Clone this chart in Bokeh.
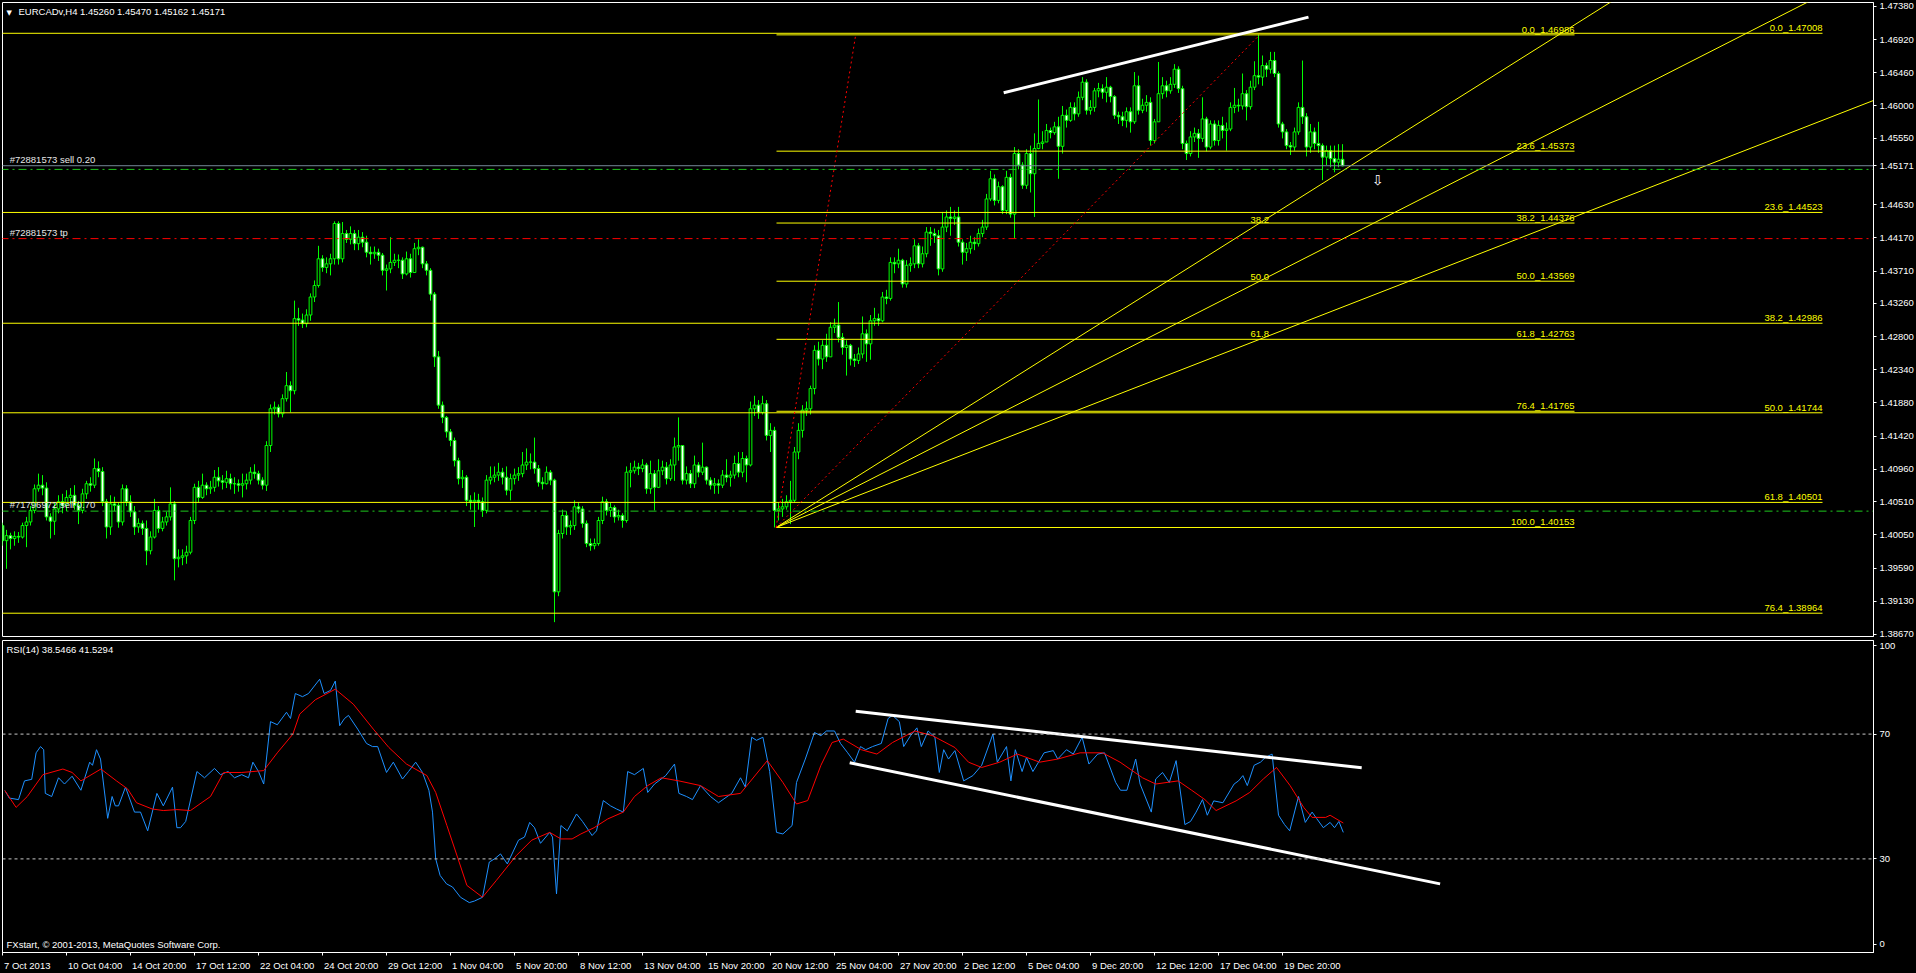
from bokeh.plotting import figure
from bokeh.models import (ColumnDataSource, FixedTicker, Range1d, Label, Span,
                          NumeralTickFormatter, CustomJS)
from bokeh.layouts import column
from bokeh.document import Document
from bokeh.embed import file_html
from bokeh.resources import INLINE
from bokeh.core.properties import value

FONT = "Liberation Sans"

# ---------------- data (EURCADv, H4) ----------------
first_open = 1.4018
closes = [
    1.3997, 1.4004, 1.4000, 1.4003, 1.4002, 1.4018, 1.4023, 1.4039, 1.4069, 1.4074,
    1.4070, 1.4030, 1.4024, 1.4041, 1.4051, 1.4046, 1.4057, 1.4060, 1.4046, 1.4039,
    1.4062, 1.4076, 1.4074, 1.4097, 1.4093, 1.4051, 1.4016, 1.4048, 1.4046, 1.4023,
    1.4069, 1.4051, 1.4037, 1.4016, 1.4021, 1.4014, 1.3983, 1.4002, 1.4039, 1.4014,
    1.4023, 1.4030, 1.4048, 1.3972, 1.3974, 1.3976, 1.3981, 1.4025, 1.4071, 1.4057,
    1.4074, 1.4069, 1.4071, 1.4085, 1.4080, 1.4078, 1.4083, 1.4076, 1.4076, 1.4074,
    1.4076, 1.4081, 1.4092, 1.4090, 1.4081, 1.4074, 1.4129, 1.4180, 1.4182, 1.4173,
    1.4194, 1.4212, 1.4205, 1.4305, 1.4303, 1.4298, 1.4310, 1.4335, 1.4351, 1.4388,
    1.4376, 1.4381, 1.4388, 1.4437, 1.4388, 1.4423, 1.4415, 1.4423, 1.4409, 1.4418,
    1.4411, 1.4397, 1.4395, 1.4397, 1.4393, 1.4372, 1.4374, 1.4383, 1.4386, 1.4386,
    1.4367, 1.4388, 1.4369, 1.4402, 1.4404, 1.4381, 1.4372, 1.4339, 1.4252, 1.4185,
    1.4168, 1.4148, 1.4136, 1.4108, 1.4083, 1.4085, 1.4053, 1.4051, 1.4053, 1.4051,
    1.4039, 1.4081, 1.4085, 1.4088, 1.4092, 1.4085, 1.4067, 1.4083, 1.4088, 1.4090,
    1.4102, 1.4106, 1.4106, 1.4097, 1.4078, 1.4076, 1.4092, 1.4081, 1.3926, 1.4007,
    1.4032, 1.4016, 1.4018, 1.4044, 1.4041, 1.4021, 1.3993, 1.3990, 1.3993, 1.4025,
    1.4051, 1.4039, 1.4043, 1.4030, 1.4032, 1.4025, 1.4092, 1.4094, 1.4099, 1.4097,
    1.4102, 1.4069, 1.4090, 1.4071, 1.4094, 1.4099, 1.4083, 1.4102, 1.4127, 1.4129,
    1.4081, 1.4090, 1.4076, 1.4102, 1.4092, 1.4099, 1.4081, 1.4074, 1.4076, 1.4074,
    1.4088, 1.4085, 1.4088, 1.4104, 1.4092, 1.4111, 1.4102, 1.4180, 1.4185, 1.4175,
    1.4187, 1.4143, 1.4150, 1.4039, 1.4041, 1.4044, 1.4051, 1.4053, 1.4120, 1.4150,
    1.4178, 1.4180, 1.4208, 1.4261, 1.4249, 1.4268, 1.4252, 1.4293, 1.4296, 1.4279,
    1.4265, 1.4268, 1.4249, 1.4247, 1.4256, 1.4284, 1.4270, 1.4302, 1.4305, 1.4302,
    1.4335, 1.4333, 1.4383, 1.4381, 1.4386, 1.4353, 1.4379, 1.4381, 1.4406, 1.4381,
    1.4395, 1.4425, 1.4423, 1.4420, 1.4374, 1.4432, 1.4446, 1.4444, 1.4446, 1.4411,
    1.4397, 1.4402, 1.4411, 1.4409, 1.4423, 1.4432, 1.4471, 1.4499, 1.4469, 1.4488,
    1.4455, 1.4501, 1.4450, 1.4534, 1.4518, 1.4490, 1.4534, 1.4506, 1.4541, 1.4548,
    1.4550, 1.4566, 1.4563, 1.4571, 1.4544, 1.4587, 1.4580, 1.4598, 1.4589, 1.4612,
    1.4633, 1.4594, 1.4598, 1.4621, 1.4624, 1.4619, 1.4626, 1.4613, 1.4587, 1.4585,
    1.4580, 1.4592, 1.4578, 1.4628, 1.4594, 1.4601, 1.4605, 1.4552, 1.4578, 1.4617,
    1.4628, 1.4621, 1.4630, 1.4651, 1.4624, 1.4548, 1.4534, 1.4557, 1.4562, 1.4555,
    1.4582, 1.4543, 1.4575, 1.4552, 1.4573, 1.4566, 1.4568, 1.4598, 1.4601, 1.4600,
    1.4617, 1.4599, 1.4626, 1.4642, 1.4640, 1.4656, 1.4651, 1.4663, 1.4645, 1.4575,
    1.4564, 1.4545, 1.4543, 1.4564, 1.4598, 1.4585, 1.4543, 1.4564, 1.4548, 1.4545,
    1.4529, 1.4538, 1.4527, 1.4522, 1.4526, 1.45171,
]
highs = [
    1.4022, 1.4012, 1.4008, 1.4010, 1.4009, 1.4022, 1.4030, 1.4045, 1.4075, 1.4090,
    1.4088, 1.4078, 1.4035, 1.4050, 1.4060, 1.4062, 1.4067, 1.4070, 1.4074, 1.4052,
    1.4069, 1.4080, 1.4085, 1.4111, 1.4107, 1.4099, 1.4055, 1.4060, 1.4058, 1.4050,
    1.4075, 1.4074, 1.4060, 1.4045, 1.4028, 1.4025, 1.4025, 1.4010, 1.4055, 1.4045,
    1.4030, 1.4037, 1.4071, 1.4052, 1.3985, 1.3985, 1.3990, 1.4030, 1.4076, 1.4080,
    1.4090, 1.4078, 1.4080, 1.4095, 1.4099, 1.4088, 1.4094, 1.4090, 1.4085, 1.4082,
    1.4090, 1.4090, 1.4099, 1.4103, 1.4094, 1.4085, 1.4135, 1.4186, 1.4190, 1.4186,
    1.4200, 1.4231, 1.4218, 1.4330, 1.4320, 1.4312, 1.4318, 1.4340, 1.4358, 1.4406,
    1.4393, 1.4390, 1.4395, 1.4440, 1.4440, 1.4439, 1.4428, 1.4433, 1.4428, 1.4428,
    1.4425, 1.4420, 1.4405, 1.4405, 1.4402, 1.4396, 1.4380, 1.4418, 1.4395, 1.4394,
    1.4390, 1.4398, 1.4395, 1.4410, 1.4415, 1.4405, 1.4385, 1.4375, 1.4342, 1.4260,
    1.4190, 1.4170, 1.4152, 1.4140, 1.4112, 1.4095, 1.4088, 1.4060, 1.4064, 1.4062,
    1.4057, 1.4088, 1.4100, 1.4100, 1.4105, 1.4098, 1.4100, 1.4090, 1.4097, 1.4099,
    1.4120, 1.4125, 1.4118, 1.4140, 1.4102, 1.4085, 1.4100, 1.4095, 1.4083, 1.4012,
    1.4040, 1.4038, 1.4025, 1.4053, 1.4050, 1.4045, 1.4025, 1.4000, 1.4000, 1.4030,
    1.4058, 1.4055, 1.4050, 1.4046, 1.4040, 1.4035, 1.4100, 1.4105, 1.4108, 1.4105,
    1.4110, 1.4105, 1.4108, 1.4095, 1.4110, 1.4108, 1.4106, 1.4110, 1.4140, 1.4168,
    1.4125, 1.4100, 1.4095, 1.4115, 1.4106, 1.4133, 1.4100, 1.4085, 1.4084, 1.4082,
    1.4095, 1.4110, 1.4094, 1.4115, 1.4120, 1.4120, 1.4115, 1.4190, 1.4198, 1.4192,
    1.4198, 1.4192, 1.4160, 1.4155, 1.4050, 1.4055, 1.4060, 1.4080, 1.4127, 1.4160,
    1.4185, 1.4190, 1.4212, 1.4268, 1.4273, 1.4275, 1.4284, 1.4300, 1.4305, 1.4328,
    1.4285, 1.4275, 1.4270, 1.4256, 1.4265, 1.4308, 1.4290, 1.4310, 1.4320, 1.4312,
    1.4342, 1.4345, 1.4390, 1.4390, 1.4402, 1.4388, 1.4386, 1.4390, 1.4415, 1.4410,
    1.4405, 1.4432, 1.4432, 1.4430, 1.4428, 1.4453, 1.4455, 1.4460, 1.4455, 1.4460,
    1.4415, 1.4410, 1.4420, 1.4418, 1.4430, 1.4442, 1.4478, 1.4510, 1.4505, 1.4495,
    1.4490, 1.4510, 1.4506, 1.4543, 1.4540, 1.4522, 1.4540, 1.4545, 1.4562, 1.4609,
    1.4565, 1.4575, 1.4570, 1.4578, 1.4585, 1.4600, 1.4595, 1.4605, 1.4605, 1.4620,
    1.4640, 1.4637, 1.4608, 1.4625, 1.4632, 1.4630, 1.4640, 1.4628, 1.4615, 1.4592,
    1.4592, 1.4598, 1.4598, 1.4647, 1.4642, 1.4610, 1.4615, 1.4612, 1.4582, 1.4661,
    1.4640, 1.4635, 1.4640, 1.4658, 1.4655, 1.4628, 1.4552, 1.4565, 1.4570, 1.4568,
    1.4612, 1.4585, 1.4580, 1.4580, 1.4580, 1.4585, 1.4577, 1.4605, 1.4625, 1.4610,
    1.4645, 1.4622, 1.4635, 1.4662, 1.4699, 1.4670, 1.4660, 1.4675, 1.4675, 1.4648,
    1.4578, 1.4568, 1.4550, 1.4570, 1.4605, 1.4663, 1.4590, 1.4575, 1.4570, 1.4578,
    1.4548, 1.4545, 1.4545, 1.4545, 1.4547, 1.45470,
]
lows = [
    1.3990, 1.3958, 1.3985, 1.3990, 1.3994, 1.4000, 1.3988, 1.4018, 1.4035, 1.4065,
    1.4060, 1.4025, 1.4000, 1.4005, 1.4035, 1.4035, 1.4038, 1.4048, 1.4040, 1.4020,
    1.4035, 1.4055, 1.4065, 1.4070, 1.4085, 1.4045, 1.4000, 1.4005, 1.4038, 1.4015,
    1.4018, 1.4045, 1.4030, 1.4005, 1.4008, 1.4005, 1.3963, 1.3978, 1.4000, 1.4008,
    1.4010, 1.4018, 1.4025, 1.3942, 1.3960, 1.3963, 1.3965, 1.3978, 1.4020, 1.4050,
    1.4055, 1.4060, 1.4062, 1.4065, 1.4072, 1.4068, 1.4070, 1.4068, 1.4062, 1.4065,
    1.4057, 1.4068, 1.4075, 1.4083, 1.4075, 1.4068, 1.4066, 1.4120, 1.4172, 1.4168,
    1.4168, 1.4190, 1.4175, 1.4200, 1.4295, 1.4292, 1.4293, 1.4302, 1.4328, 1.4348,
    1.4370, 1.4368, 1.4365, 1.4380, 1.4380, 1.4383, 1.4410, 1.4408, 1.4400, 1.4400,
    1.4404, 1.4390, 1.4380, 1.4388, 1.4385, 1.4365, 1.4344, 1.4368, 1.4378, 1.4375,
    1.4360, 1.4365, 1.4362, 1.4370, 1.4393, 1.4375, 1.4365, 1.4330, 1.4238, 1.4180,
    1.4160, 1.4140, 1.4128, 1.4100, 1.4075, 1.4070, 1.4045, 1.4040, 1.4016, 1.4040,
    1.4030, 1.4035, 1.4075, 1.4078, 1.4080, 1.4075, 1.4060, 1.4053, 1.4075, 1.4080,
    1.4085, 1.4095, 1.4096, 1.4090, 1.4072, 1.4068, 1.4075, 1.4074, 1.3884, 1.3920,
    1.4000, 1.4005, 1.4005, 1.4012, 1.4035, 1.4015, 1.3988, 1.3983, 1.3985, 1.3990,
    1.4020, 1.4032, 1.4030, 1.4022, 1.4025, 1.4015, 1.4022, 1.4071, 1.4090, 1.4088,
    1.4092, 1.4062, 1.4062, 1.4039, 1.4070, 1.4088, 1.4075, 1.4080, 1.4080, 1.4108,
    1.4075, 1.4075, 1.4070, 1.4070, 1.4085, 1.4088, 1.4075, 1.4068, 1.4062, 1.4062,
    1.4070, 1.4078, 1.4072, 1.4083, 1.4085, 1.4085, 1.4078, 1.4100, 1.4170, 1.4166,
    1.4172, 1.4136, 1.4120, 1.40153, 1.4025, 1.4030, 1.4040, 1.4020, 1.4050, 1.4110,
    1.4140, 1.4170, 1.4172, 1.4200, 1.4240, 1.4235, 1.4245, 1.4262, 1.4285, 1.4272,
    1.4255, 1.4226, 1.4240, 1.4238, 1.4242, 1.4250, 1.4245, 1.4248, 1.4295, 1.4295,
    1.4300, 1.4325, 1.4330, 1.4368, 1.4375, 1.4348, 1.4348, 1.4370, 1.4375, 1.4375,
    1.4376, 1.4390, 1.4406, 1.4410, 1.4365, 1.4370, 1.4425, 1.4420, 1.4435, 1.4405,
    1.4380, 1.4385, 1.4395, 1.4400, 1.4405, 1.4418, 1.4428, 1.4468, 1.4462, 1.4465,
    1.4450, 1.4450, 1.4445, 1.4416, 1.4512, 1.4485, 1.4485, 1.4480, 1.4446, 1.4540,
    1.4540, 1.4550, 1.4555, 1.4560, 1.4499, 1.4534, 1.4570, 1.4578, 1.4580, 1.4585,
    1.4608, 1.4588, 1.4588, 1.4592, 1.4612, 1.4610, 1.4605, 1.4605, 1.4582, 1.4575,
    1.4572, 1.4570, 1.4563, 1.4575, 1.4588, 1.4590, 1.4592, 1.4545, 1.4548, 1.4580,
    1.4610, 1.4612, 1.4617, 1.4625, 1.4618, 1.4540, 1.4525, 1.4530, 1.4550, 1.4528,
    1.4550, 1.4537, 1.4540, 1.4545, 1.4545, 1.4555, 1.4538, 1.4565, 1.4590, 1.4592,
    1.4595, 1.4580, 1.4595, 1.4622, 1.4630, 1.4628, 1.4640, 1.4645, 1.4640, 1.4570,
    1.4555, 1.4540, 1.4532, 1.4538, 1.4560, 1.4575, 1.4530, 1.4535, 1.4540, 1.4535,
    1.4497, 1.4518, 1.4515, 1.4508, 1.4515, 1.45162,
]

# time axis: bar index of each label and its text
time_tick_bars = [0, 16, 32, 48, 64, 80, 96, 112, 128, 144, 160, 176, 192, 208, 224,
                  240, 256, 272, 288, 304, 320]
time_tick_labels = ["7 Oct 2013", "10 Oct 04:00", "14 Oct 20:00", "17 Oct 12:00", "22 Oct 04:00",
                    "24 Oct 20:00", "29 Oct 12:00", "1 Nov 04:00", "5 Nov 20:00", "8 Nov 12:00",
                    "13 Nov 04:00", "15 Nov 20:00", "20 Nov 12:00", "25 Nov 04:00", "27 Nov 20:00",
                    "2 Dec 12:00", "5 Dec 04:00", "9 Dec 20:00", "12 Dec 12:00", "17 Dec 04:00",
                    "19 Dec 20:00"]
price_ticks = [1.47380, 1.46920, 1.46460, 1.46000, 1.45550, 1.45171, 1.44630, 1.44170, 1.43710,
               1.43260, 1.42800, 1.42340, 1.41880, 1.41420, 1.40960, 1.40510, 1.40050, 1.39590,
               1.39130, 1.38670]
rsi_ticks = [2.6, 30, 70, 98.4]
rsi_tick_labels = ["0", "30", "70", "100"]

# Fibonacci retracement #1 (anchored on the 20 Nov low) and #2 (wide one)
fib1_levels = [0.0, 23.6, 38.2, 50.0, 61.8, 76.4, 100.0]
fib1_prices = [1.46986, 1.45373, 1.44376, 1.43569, 1.42763, 1.41765, 1.40153]
fib1_span = [193.5, 393.0]
fib2_levels = [0.0, 23.6, 38.2, 50.0, 61.8, 76.4]
fib2_prices = [1.47008, 1.44523, 1.42986, 1.41744, 1.40501, 1.38964]
fib2_span = [-5.0, 455.0]

# Fibonacci fan: anchors (bar, price) and levels
fan_anchor_bars = [193.4, 314.3]
fan_anchor_prices = [1.40153, 1.46986]
fan_levels = [38.2, 50.0, 61.8]
fan_label_bar = 312.0
fan_end_bar = 480.0

# trend lines (bar, price)
red_line1 = ([193.4, 213.3], [1.40153, 1.46986])
red_line2 = ([193.4, 314.3], [1.40153, 1.46986])
white_trend = ([250.3, 326.5], [1.46183, 1.47232])

# order lines
bid_price = 1.45171
sell_open_prices = [1.4512, 1.4038]
sell_labels = ["#72881573 sell 0.20", "#71796972 sell 0.70"]
tp_price = 1.4416
tp_label = "#72881573 tp"
arrow_pos = (343.8, 1.4497)

# RSI(14) (blue) and its signal line (red): (bar, value)
rsi_x = [0.6, 1.7, 4.0, 5.5, 7.3, 8.4, 9.5, 10.3, 10.7, 12.3, 14, 15.5, 17.4, 19.6, 21.8, 22.5,
         23.5, 24.5, 26.3, 27.4, 28.2, 29, 30.75, 33, 34.5, 36.3, 38.6, 40.2, 42.5, 43.6, 44.5,
         45.8, 48.6, 50.5, 53, 54.5, 56.4, 58, 59.8, 61.5, 62.6, 64, 65.3, 67, 68.7, 71, 72,
         73.2, 75, 76.5, 79.3, 80.4, 82, 83.2, 84.3, 85.5, 86.5, 88.8, 91, 92.5, 93.8, 96, 97.7,
         100, 101.5, 103.3, 105, 106.6, 107.5, 108.3, 109.4, 111, 112.5, 114.5, 116.7, 118, 120,
         121.7, 123, 124.5, 126.2, 129, 130.5, 131.8, 133, 134.5, 136.8, 137.5, 138.5, 139.6,
         141.2, 143.5, 145, 147.4, 148.5, 150.2, 152, 153.5, 155.2, 156.3, 158, 160.2, 161.3,
         163, 165.8, 168, 169.1, 171, 172.5, 174.5, 177, 179, 182.3, 184.5, 185.7, 187.3, 188.5,
         190.1, 191.8, 193.5, 195.1, 197.4, 198.5, 200.7, 203, 204.6, 206, 208, 209.5, 211.3,
         213, 214.5, 215.8, 217.5, 219.7, 221.4, 222.5, 224.2, 225.3, 227, 228.6, 229.7, 231.4,
         233.1, 234.2, 235.3, 236.5, 238.1, 240.3, 242.6, 244.8, 247.6, 248.7, 251, 252.1, 253.2,
         254.9, 256, 257.6, 260.4, 262.7, 263.8, 266, 267.7, 269.9, 271.6, 273.8, 275.5, 278.3,
         279.5, 281.1, 283.3, 284.4, 287.2, 288.3, 290, 291.7, 293.4, 295.6, 297, 298.4, 300,
         301.2, 302.8, 305.1, 307.9, 309, 310.1, 311.2, 312.9, 314.5, 315.7, 317.4, 319, 320.5,
         321.8, 324, 325.7, 327.4, 328.5, 330.2, 331.9, 333, 334.1, 335.2]
rsi_v = [51.9, 49.5, 49, 55, 55.5, 64, 66, 65, 51, 50, 56, 54, 56.5, 52, 61, 60,
         65, 62, 43, 50, 47, 47, 53, 45, 45, 39, 51, 47, 53, 40, 40,
         42, 58, 56, 59, 57, 58, 56, 57, 56, 61, 58, 54, 74, 73, 77, 75,
         83, 82, 83, 87.6, 83, 84, 87, 72.7, 75, 76, 71.6, 67, 66, 66, 57.7, 61,
         55.6, 58, 61, 57.7, 52, 45, 30, 24.7, 22, 21, 17.7, 16, 16.5, 17.7,
         29, 30, 31.6, 28.4, 36, 37, 41.7, 40, 35, 38.5, 37, 18.8, 40.7,
         39, 44.4, 42, 37.5, 39, 48.7, 47, 46, 45, 58, 57, 59, 51.3,
         54, 56.7, 60.4, 51, 50, 49, 53.5, 50, 48, 51, 56, 53, 69, 68,
         69, 58, 38.5, 38, 40.7, 54.5, 62, 70.5, 69.5, 71, 71, 67, 64,
         61, 66, 65, 66, 67, 75, 76, 74, 66, 69.5, 72, 66, 71,
         69, 57.7, 65, 62, 64.7, 55, 56.7, 60, 70, 61, 66, 55, 65,
         58, 62.5, 58, 64, 64.7, 62, 65, 63.6, 69, 60.4, 63.6, 64, 54.5,
         52, 52, 62, 54, 45, 55.6, 57.7, 54.5, 61.5, 41, 42, 45, 49,
         44, 48.6, 48, 54, 55, 56.7, 53.5, 60, 61, 62.5, 63.6, 44, 41,
         39, 50, 41.7, 45, 43, 40, 41.7, 40, 42, 38.5]
sig_x = [0.6, 3.4, 6.2, 10.1, 15.1, 17.4, 19.6, 24.6, 28.5, 31.3, 33.5, 37.4, 40.2, 43.6, 47,
         52, 55.3, 59.8, 65.3, 68.7, 72.6, 74.3, 78.2, 83.2, 87.7, 92.7, 96.6, 101, 106.1,
         108.3, 111.1, 113.9, 116.1, 120, 123.4, 128.4, 132.3, 136.8, 139.6, 142.4, 144.6,
         147.9, 151.3, 155.2, 158, 161.3, 164.7, 169.1, 174.5, 179, 184.5, 191.2, 195.1,
         198.5, 201.3, 204.6, 207.4, 210.2, 214.7, 218.6, 222.5, 228.1, 232.5, 238.1, 241.5,
         244.8, 249.3, 253.7, 259.3, 263.8, 269.4, 275, 279.4, 285, 288.3, 293.9, 297.3,
         300.6, 303.4, 308.4, 311.8, 315.2, 318.5, 321.9, 325.3, 327.4, 330.8, 331.9, 335.2]
sig_v = [51.9, 46.5, 50, 57, 58.8, 57.7, 55, 58.8, 55, 52.4, 48, 46, 45.5, 45.8, 45.5,
         50, 57.7, 57.7, 58.3, 64, 70, 76.4, 81, 84.4, 79.6, 71.6, 65.7, 60.4, 56.7,
         51.3, 40.7, 30, 21.5, 17.7, 23, 31, 36, 38.5, 36.4, 36.4, 38,
         40, 42.8, 45, 50, 53.5, 56, 55, 53.5, 50, 51, 61.5, 54.5,
         47.6, 48.7, 60, 67.3, 68.4, 65, 63.6, 67.3, 71, 69.5, 65.7, 61,
         59.3, 61, 63.6, 61, 62, 64, 64, 61, 56, 54, 55, 52,
         49, 45.5, 48.6, 51.3, 55.6, 59.3, 53.5, 46.5, 43.3, 43.3, 44, 41.5]
rsi_levels = [70, 30]
rsi_upper_line = ([213.3, 339.8], [77.3, 59.2])
rsi_lower_line = ([211.8, 359.4], [60.8, 22.0])

# ---------------- styling ----------------
LIME = "#00ff00"
YELLOW = "#ffff00"
FW = 1871          # 4 px per bar
MH = 634
RH = 312
PX_PER_BAR = 4.0
XR = Range1d(0.0, FW / PX_PER_BAR)
FS = "9.5px"
FSPX = 9.5


def style_axis(ax):
    ax.axis_line_color = "white"
    ax.major_tick_line_color = "white"
    ax.minor_tick_line_color = None
    ax.major_tick_out = 3
    ax.major_tick_in = 0
    ax.minor_tick_in = 0
    ax.minor_tick_out = 0
    ax.major_label_text_color = "white"
    ax.major_label_text_font = FONT
    ax.major_label_text_font_size = FS
    ax.major_label_standoff = 3


main = figure(frame_width=FW, frame_height=MH, x_range=XR, y_range=Range1d(1.38641, 1.47435),
              output_backend="svg", toolbar_location=None, x_axis_location=None,
              y_axis_location="right", background_fill_color="black", border_fill_color="black",
              outline_line_color="white", min_border_left=2, min_border_right=41,
              min_border_top=2, min_border_bottom=3)
main.grid.visible = False
ya = main.yaxis[0]
ya.ticker = FixedTicker(ticks=price_ticks)
ya.formatter = NumeralTickFormatter(format="0.00000")
style_axis(ya)

# candles
opens = [first_open] + closes[:-1]
n = min(len(closes), len(highs), len(lows))
bars = list(range(n))
tops = [max(o, c) for o, c in zip(opens[:n], closes[:n])]
bots = [min(o, c) for o, c in zip(opens[:n], closes[:n])]
fills = ["black" if c >= o else "white" for o, c in zip(opens[:n], closes[:n])]
csrc = ColumnDataSource(dict(x=bars, h=highs[:n], l=lows[:n], top=tops, bot=bots, fill=fills))
main.segment(x0="x", y0="h", x1="x", y1="l", source=csrc, line_color=LIME, line_width=1)
main.vbar(x="x", width=0.68, top="top", bottom="bot", source=csrc, fill_color="fill",
          line_color=LIME, line_width=1)

# fib #2 (wide)
for lv, pr in zip(fib2_levels, fib2_prices):
    main.line(x=fib2_span, y=[pr, pr], line_color=YELLOW, line_width=1)
main.text(x=[fib2_span[1]] * len(fib2_prices), y=fib2_prices,
          text=["%.1f_%.5f" % (lv, pr) for lv, pr in zip(fib2_levels, fib2_prices)],
          text_align="right", text_baseline="bottom", text_color=YELLOW,
          text_font=value(FONT), text_font_size="9.5px")
# fib #1
for lv, pr in zip(fib1_levels, fib1_prices):
    main.line(x=fib1_span, y=[pr, pr], line_color=YELLOW, line_width=1)
main.text(x=[fib1_span[1]] * len(fib1_prices), y=fib1_prices,
          text=["%.1f_%.5f" % (lv, pr) for lv, pr in zip(fib1_levels, fib1_prices)],
          text_align="right", text_baseline="bottom", text_color=YELLOW,
          text_font=value(FONT), text_font_size="9.5px")

# fan
fx0, fx1 = fan_anchor_bars
fp0, fp1 = fan_anchor_prices
rng = fp1 - fp0
fan_lab_y = []
for lv in fan_levels:
    target = fp1 - lv / 100.0 * rng
    slope = (target - fp0) / (fx1 - fx0)
    main.line(x=[fx0, fan_end_bar], y=[fp0, fp0 + slope * (fan_end_bar - fx0)],
              line_color=YELLOW, line_width=1)
    fan_lab_y.append(fp0 + slope * (fan_label_bar - fx0))
main.text(x=[fan_label_bar] * len(fan_levels), y=fan_lab_y, text=["%.1f" % lv for lv in fan_levels],
          text_align="left", text_baseline="bottom", y_offset=-6, text_color=YELLOW,
          text_font=value(FONT), text_font_size="9.5px")

# red dotted trend lines
for xs, ys in [red_line1, red_line2]:
    main.line(x=xs, y=ys, line_color="#ff0000", line_width=1, line_dash="2 3")

# order lines
main.line(x=[-5, 480], y=[bid_price, bid_price], line_color="#778899", line_width=1)
for pr in sell_open_prices:
    main.line(x=[-5, 480], y=[pr, pr], line_color="#1ec81e", line_width=1, line_dash="8 4 2 4")
main.line(x=[-5, 480], y=[tp_price, tp_price], line_color="#ff0000", line_width=1,
          line_dash="8 4 2 4")
main.text(x=[1.8, 1.8, 1.8], y=[bid_price, sell_open_prices[1], tp_price],
          text=[sell_labels[0], sell_labels[1], tp_label], text_align="left",
          text_baseline="bottom", y_offset=-1, text_color="#e6e6e6",
          text_font=value(FONT), text_font_size=FS)

# white trend line
main.line(x=white_trend[0], y=white_trend[1], line_color="white", line_width=3)

# sell arrow
main.text(x=[arrow_pos[0]], y=[arrow_pos[1]], text=["\u21e9"], text_align="center",
          text_baseline="middle", text_color="white", text_font=value("DejaVu Sans"),
          text_font_size="14px")

# header
main.add_layout(Label(x=4, y=MH - 6, x_units="screen", y_units="screen", text="\u25bc",
                      text_font="DejaVu Sans", text_font_size="7px", text_color="white",
                      text_baseline="top"))
main.add_layout(Label(x=16, y=MH - 3, x_units="screen", y_units="screen",
                      text="EURCADv,H4  1.45260 1.45470 1.45162 1.45171",
                      text_font=FONT, text_font_size=FS, text_color="white", text_baseline="top"))

# ---------------- RSI panel ----------------
rsi = figure(frame_width=FW, frame_height=RH, x_range=XR, y_range=Range1d(0, 100),
             output_backend="svg", toolbar_location=None, y_axis_location="right",
             background_fill_color="black", border_fill_color="black", outline_line_color="white",
             min_border_left=2, min_border_right=41, min_border_top=1, min_border_bottom=18)
rsi.grid.visible = False
ry = rsi.yaxis[0]
ry.ticker = FixedTicker(ticks=rsi_ticks)
ry.major_label_overrides = {t: s for t, s in zip(rsi_ticks, rsi_tick_labels)}
style_axis(ry)


# time axis: MT4 writes each date just right of its tick, so the label anchor is moved
# right by half the label width; the tick marks themselves sit on the bars (minor ticks)
CW = {" ": 0.278, ":": 0.278, "O": 0.778, "N": 0.722, "D": 0.722, "c": 0.5, "v": 0.5,
      "t": 0.278, "o": 0.556, "e": 0.556}


def text_w(s):
    return sum(CW.get(ch, 0.556) for ch in s) * FSPX


label_pos = [round(b + (text_w(s) / 2.0 + 1.5) / PX_PER_BAR, 2)
             for b, s in zip(time_tick_bars, time_tick_labels)]
rx = rsi.xaxis[0]
rx.ticker = FixedTicker(ticks=label_pos, minor_ticks=time_tick_bars)
rx.major_label_overrides = {p: s for p, s in zip(label_pos, time_tick_labels)}
style_axis(rx)
rx.major_tick_out = 0
rx.minor_tick_out = 3
rx.minor_tick_line_color = "white"
rx.major_label_standoff = 4

for lv in rsi_levels:
    rsi.add_layout(Span(location=lv, dimension="width", line_color="#c8c8c8", line_width=1,
                        line_dash="3 3"))
rsi.line(x=rsi_x, y=rsi_v, line_color="#1e90ff", line_width=1)
rsi.line(x=sig_x, y=sig_v, line_color="#ff0000", line_width=1)
for xs, ys in [rsi_upper_line, rsi_lower_line]:
    rsi.line(x=xs, y=ys, line_color="white", line_width=3)

rsi.add_layout(Label(x=4, y=RH - 3, x_units="screen", y_units="screen",
                     text="RSI(14) 38.5466 41.5294", text_font=FONT, text_font_size=FS,
                     text_color="white", text_baseline="top"))
rsi.add_layout(Label(x=4, y=3, x_units="screen", y_units="screen",
                     text="FXstart, \u00a9 2001-2013, MetaQuotes Software Corp.", text_font=FONT,
                     text_font_size=FS, text_color="white", text_baseline="bottom"))

layout = column(main, rsi)
doc = Document()
doc.add_root(layout)
try:
    doc.js_on_event("document_ready", CustomJS(code="document.body.style.background='#000000';"))
except Exception:
    pass

open("out.html", "w").write(file_html(layout, INLINE, title="EURCADv,H4"))
